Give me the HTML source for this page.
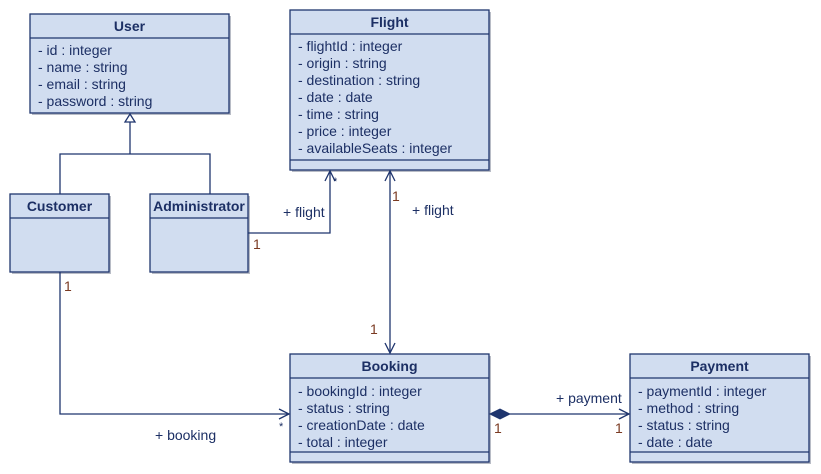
<!DOCTYPE html>
<html><head><meta charset="utf-8"><style>
html,body{margin:0;padding:0;background:#fff;}
svg{display:block;}
text{font-family:"Liberation Sans",Arial,sans-serif;font-size:14px;fill:#1c2f64;}
.t{font-weight:bold;}
.m{fill:#7a3a22;}
.b{fill:#d1ddf0;stroke:#1f356e;stroke-width:1.3;}
.l{stroke:#1f356e;stroke-width:1.3;fill:none;}
.s{fill:#b8bcc6;}
</style></head><body>
<svg width="821" height="474" viewBox="0 0 821 474">
<!-- shadows -->
<rect class="s" x="32" y="16" width="199" height="99"/>
<rect class="s" x="292" y="12" width="199" height="160"/>
<rect class="s" x="12" y="196" width="99" height="78"/>
<rect class="s" x="152" y="196" width="98" height="78"/>
<rect class="s" x="292" y="356" width="199" height="108"/>
<rect class="s" x="632" y="356" width="179" height="108"/>

<!-- User -->
<rect class="b" x="30" y="14" width="199" height="99"/>
<line class="l" x1="30" y1="38" x2="229" y2="38"/>
<text class="t" x="129.5" y="31" text-anchor="middle">User</text>
<text x="38" y="55">- id : integer</text>
<text x="38" y="72">- name : string</text>
<text x="38" y="89">- email : string</text>
<text x="38" y="106">- password : string</text>

<!-- Flight -->
<rect class="b" x="290" y="10" width="199" height="160"/>
<line class="l" x1="290" y1="34" x2="489" y2="34"/>
<line class="l" x1="290" y1="160" x2="489" y2="160"/>
<text class="t" x="389.5" y="27" text-anchor="middle">Flight</text>
<text x="298" y="51">- flightId : integer</text>
<text x="298" y="68">- origin : string</text>
<text x="298" y="85">- destination : string</text>
<text x="298" y="102">- date : date</text>
<text x="298" y="119">- time : string</text>
<text x="298" y="136">- price : integer</text>
<text x="298" y="153">- availableSeats : integer</text>

<!-- Customer -->
<rect class="b" x="10" y="194" width="99" height="78"/>
<line class="l" x1="10" y1="218" x2="109" y2="218"/>
<text class="t" x="59.5" y="211" text-anchor="middle">Customer</text>

<!-- Administrator -->
<rect class="b" x="150" y="194" width="98" height="78"/>
<line class="l" x1="150" y1="218" x2="248" y2="218"/>
<text class="t" x="199" y="211" text-anchor="middle">Administrator</text>

<!-- Booking -->
<rect class="b" x="290" y="354" width="199" height="108"/>
<line class="l" x1="290" y1="378" x2="489" y2="378"/>
<line class="l" x1="290" y1="452" x2="489" y2="452"/>
<text class="t" x="389.5" y="371" text-anchor="middle">Booking</text>
<text x="298" y="396">- bookingId : integer</text>
<text x="298" y="413">- status : string</text>
<text x="298" y="430">- creationDate : date</text>
<text x="298" y="447">- total : integer</text>

<!-- Payment -->
<rect class="b" x="630" y="354" width="179" height="108"/>
<line class="l" x1="630" y1="378" x2="809" y2="378"/>
<line class="l" x1="630" y1="452" x2="809" y2="452"/>
<text class="t" x="719.5" y="371" text-anchor="middle">Payment</text>
<text x="638" y="396">- paymentId : integer</text>
<text x="638" y="413">- method : string</text>
<text x="638" y="430">- status : string</text>
<text x="638" y="447">- date : date</text>

<!-- Generalization -->
<polyline class="l" points="60,194 60,154 210,154 210,194"/>
<line class="l" x1="130" y1="154" x2="130" y2="122"/>
<polygon points="130,114 125,122 135,122" fill="#fff" stroke="#1f356e" stroke-width="1.3"/>

<!-- Admin -> Flight -->
<polyline class="l" points="248,233 330,233 330,171"/>
<polyline class="l" points="325,181 330,171 335,181"/>
<text x="283" y="217">+ flight</text>
<text class="m" x="253" y="249">1</text>
<text x="333" y="185" style="font-size:11px">*</text>

<!-- Flight <-> Booking -->
<line class="l" x1="390" y1="171" x2="390" y2="353"/>
<polyline class="l" points="385,181 390,171 395,181"/>
<polyline class="l" points="385,343 390,353 395,343"/>
<text class="m" x="392" y="201">1</text>
<text x="412" y="215">+ flight</text>
<text class="m" x="370" y="334">1</text>

<!-- Customer -> Booking -->
<polyline class="l" points="60,272 60,414 289,414"/>
<polyline class="l" points="279,409 289,414 279,419"/>
<text class="m" x="64" y="291">1</text>
<text x="279" y="430" style="font-size:11px">*</text>
<text x="155" y="440">+ booking</text>

<!-- Booking -> Payment -->
<line class="l" x1="510" y1="414" x2="629" y2="414"/>
<polygon points="490,414 500,409 510,414 500,419" fill="#1f356e" stroke="#1f356e"/>
<polyline class="l" points="619,409 629,414 619,419"/>
<text x="556" y="403">+ payment</text>
<text class="m" x="494" y="433">1</text>
<text class="m" x="615" y="433">1</text>
</svg>
</body></html>
